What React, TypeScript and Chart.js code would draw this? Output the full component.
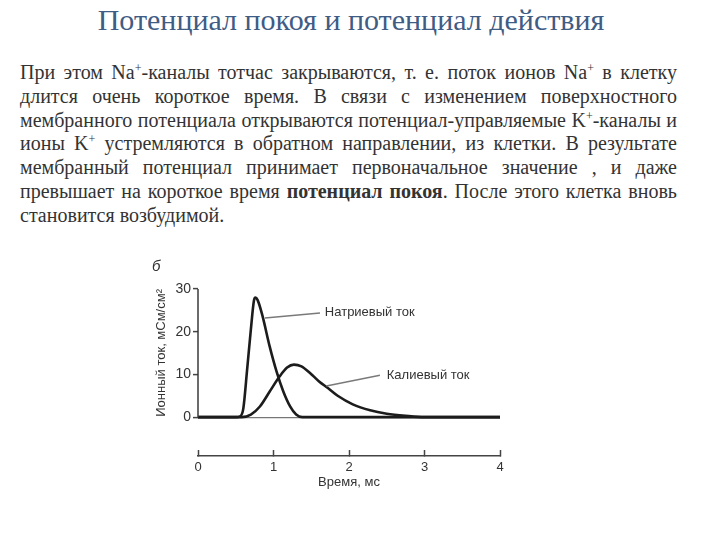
import React, { useEffect, useRef } from 'react';
import { Chart, registerables } from 'chart.js';

Chart.register(...registerables);

// Sodium current (мСм/см²) vs time (мс)
const timeNa = [0, 0.5, 0.56, 0.6, 0.65, 0.7, 0.74, 0.76, 0.79, 0.85, 0.95, 1.04, 1.13, 1.22, 1.3, 1.38, 4];
const sodiumCurrent = [0, 0, 0.2, 2, 11, 20.5, 27.2, 28, 27.4, 24, 16.5, 10.7, 6.0, 2.5, 0.6, 0, 0];
// Potassium current
const timeK = [0, 0.58, 0.7, 0.82, 0.95, 1.08, 1.18, 1.27, 1.37, 1.48, 1.6, 1.72, 1.85, 2.05, 2.28, 2.5, 2.75, 3.0, 4];
const potassiumCurrent = [0, 0, 0.6, 2.5, 6, 9.5, 11.6, 12.3, 11.9, 10.4, 8.4, 6.8, 5.0, 3.0, 1.6, 0.8, 0.3, 0, 0];

// Axes
const yAxisRange = [0, 30];
const yMin = -9.1;
const xRange = [0, 4];

// Curve labels and leader lines (data coordinates)
const curveLabels = ['Натриевый ток', 'Калиевый ток'];
const labelT = [1.68, 2.5];
const labelV = [24.6, 9.8];
const leaderNaT = [0.887, 1.616];
const leaderNaV = [23.2, 24.4];
const leaderKT = [1.7, 2.41];
const leaderKV = [7.3, 9.8];

const panelLetter = 'б';
const xTitle = 'Время, мс';
const yTitle = 'Ионный ток, мСм/см²';

const toPoints = (xs: number[], ys: number[]) => xs.map((x, i) => ({ x, y: ys[i] }));

const labelPlugin = {
  id: 'curveLabels',
  afterDatasetsDraw(chart: any) {
    const { ctx, scales } = chart;
    const x = scales.x;
    const y = scales.y;
    ctx.save();
    ctx.font = '13px "Liberation Sans", Arial, sans-serif';
    ctx.fillStyle = '#333';
    ctx.textAlign = 'left';
    ctx.textBaseline = 'middle';
    curveLabels.forEach((t, i) => {
      ctx.fillText(t, x.getPixelForValue(labelT[i]), y.getPixelForValue(labelV[i]));
    });
    ctx.restore();
  },
};

function IonChart() {
  const ref = useRef<HTMLCanvasElement | null>(null);
  useEffect(() => {
    if (!ref.current) return;
    const font = { family: '"Liberation Sans", Arial, sans-serif', size: 13 };
    const yFont = { family: '"Liberation Sans", Arial, sans-serif', size: 14 };
    const chart = new Chart(ref.current, {
      type: 'line',
      data: {
        datasets: [
          {
            data: toPoints([0, 0], yAxisRange),
            borderColor: '#3a3a3a',
            borderWidth: 1.5,
            pointRadius: 0,
            clip: false,
          } as any,
          {
            data: toPoints(leaderNaT, leaderNaV),
            borderColor: '#7a7a7a',
            borderWidth: 1.5,
            pointRadius: 0,
          },
          {
            data: toPoints(leaderKT, leaderKV),
            borderColor: '#7a7a7a',
            borderWidth: 1.5,
            pointRadius: 0,
          },
          {
            label: 'Натриевый ток',
            data: toPoints(timeNa, sodiumCurrent),
            borderColor: '#1c1c1c',
            borderWidth: 2.6,
            pointRadius: 0,
            cubicInterpolationMode: 'monotone',
            clip: false,
          } as any,
          {
            label: 'Калиевый ток',
            data: toPoints(timeK, potassiumCurrent),
            borderColor: '#1c1c1c',
            borderWidth: 2.6,
            pointRadius: 0,
            cubicInterpolationMode: 'monotone',
            clip: false,
          } as any,
        ],
      },
      options: {
        animation: false,
        responsive: true,
        maintainAspectRatio: false,
        layout: { padding: { left: 12, right: 20, top: 0, bottom: 0 } },
        plugins: {
          legend: { display: false },
          tooltip: { enabled: false },
          title: {
            display: true,
            text: panelLetter,
            align: 'start',
            color: '#333',
            font: { family: '"Liberation Sans", Arial, sans-serif', size: 15, style: 'italic', weight: 'normal', lineHeight: 1.2 },
            padding: { top: 8, bottom: 13 },
          },
        },
        scales: {
          x: {
            type: 'linear',
            min: xRange[0],
            max: xRange[1],
            afterFit: (s: any) => { s.height = 44; },
            ticks: { stepSize: 1, color: '#333', font, padding: 10 },
            grid: {
              drawOnChartArea: false,
              drawTicks: true,
              tickLength: -6,
              tickColor: '#444',
              tickWidth: 1.5,
            },
            border: { display: true, color: '#444', width: 1.5 },
            title: { display: true, text: xTitle, color: '#333', font, padding: { top: 0, bottom: 10 } },
          },
          y: {
            type: 'linear',
            min: yMin,
            max: yAxisRange[1],
            afterFit: (s: any) => { s.width = 46; },
            afterBuildTicks: (s: any) => {
              s.ticks = s.ticks.filter((t: any) => t.value >= 0 && t.value % 10 === 0);
            },
            ticks: { stepSize: 10, color: '#333', font: yFont, padding: 2 },
            grid: {
              drawOnChartArea: true,
              drawTicks: true,
              tickLength: 5,
              color: (c: any) => (c.tick && c.tick.value === 0 ? '#777' : 'rgba(0,0,0,0)'),
              lineWidth: 1.2,
              tickColor: '#444',
              tickWidth: 1.5,
            },
            border: { display: false },
            title: { display: true, text: yTitle, color: '#333', font, align: 'end', padding: { top: 2, bottom: 0 } },
          },
        },
      } as any,
      plugins: [labelPlugin],
    });
    return () => chart.destroy();
  }, []);
  return (
    <div style={{ position: 'absolute', left: 140, top: 250, width: 380, height: 250 }}>
      <canvas ref={ref} />
    </div>
  );
}

const sup = (s: string) => (
  <sup style={{ fontSize: '0.6em', lineHeight: 0, verticalAlign: '0.55em' }}>{s}</sup>
);

const lineStyle = (last: boolean): React.CSSProperties => ({
  textAlign: last ? 'left' : 'justify',
  textAlignLast: last ? 'left' : 'justify',
  height: 23.8,
  lineHeight: '23.8px',
});

export default function App() {
  return (
    <div style={{ position: 'absolute', left: 0, top: 0, width: 720, height: 540, background: '#fff', overflow: 'hidden' }}>
      <div
        style={{
          position: 'absolute',
          left: -9,
          top: 2,
          width: 720,
          textAlign: 'center',
          fontFamily: '"Liberation Serif", "Times New Roman", serif',
          fontSize: 30,
          lineHeight: '36px',
          color: '#3f5c85',
        }}
      >
        Потенциал покоя и потенциал действия
      </div>
      <div
        style={{
          position: 'absolute',
          left: 20,
          top: 61,
          width: 657,
          fontFamily: '"Liberation Serif", "Times New Roman", serif',
          fontSize: 20,
          color: '#333',
        }}
      >
        <div style={lineStyle(false)}>При этом Na{sup('+')}-каналы тотчас закрываются, т. е. поток ионов Na{sup('+')} в клетку</div>
        <div style={lineStyle(false)}>длится очень короткое время. В связи с изменением поверхностного</div>
        <div style={lineStyle(false)}>мембранного потенциала открываются потенциал-управляемые K{sup('+')}-каналы и</div>
        <div style={lineStyle(false)}>ионы K{sup('+')} устремляются в обратном направлении, из клетки. В результате</div>
        <div style={lineStyle(false)}>мембранный потенциал принимает первоначальное значение , и даже</div>
        <div style={lineStyle(false)}>превышает на короткое время <b>потенциал покоя</b>. После этого клетка вновь</div>
        <div style={lineStyle(true)}>становится возбудимой.</div>
      </div>
      <IonChart />
    </div>
  );
}
